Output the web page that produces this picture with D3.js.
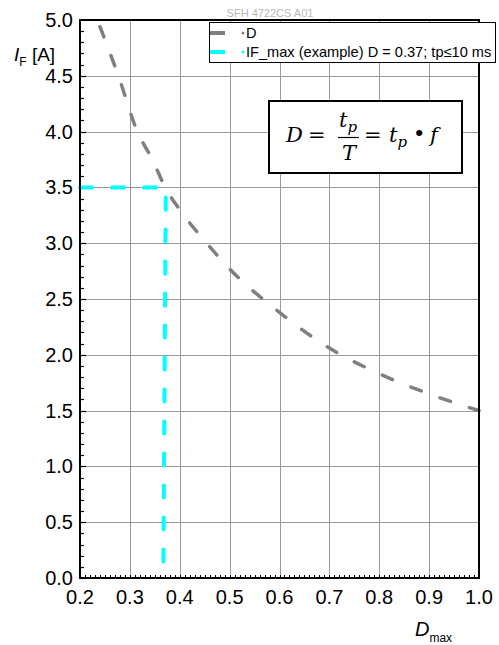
<!DOCTYPE html>
<meta charset="utf-8">
<style>
body { margin: 0; background: #fff; }
text { font-family: "Liberation Sans", Arial, sans-serif; }
.grid line { stroke: #9a9a9a; stroke-width: 1; shape-rendering: crispEdges; }
.frm { fill: none; stroke: #000; stroke-width: 1.5; shape-rendering: crispEdges; }
.mf { font-family: "DejaVu Serif", "Liberation Serif", serif; font-style: italic; font-size: 21px; }
</style>
<body>
<svg width="499" height="645"></svg>
<script src="https://cdnjs.cloudflare.com/ajax/libs/d3/7.8.5/d3.min.js"></script>
<script>

// duty cycle curve D -> IF
var dutyD  = [0.24, 0.277, 0.315, 0.345, 0.372, 0.40, 0.454, 0.50, 0.60, 0.70, 0.80, 0.90, 1.00];
var dutyIF = [4.94, 4.50,  4.00,  3.75,  3.49,  3.30, 3.00,  2.77, 2.38, 2.06, 1.83, 1.65, 1.50];

// example path
var exD  = [0.20, 0.372, 0.367];
var exIF = [3.50, 3.50,  0.00];

var xTicks = [0.2, 0.3, 0.4, 0.5, 0.6, 0.7, 0.8, 0.9, 1.0];
var yTicks = [0, 0.5, 1, 1.5, 2, 2.5, 3, 3.5, 4, 4.5, 5];
var legendLabels = ["D", "IF_max (example) D = 0.37; tp\u226410 ms"];
var legendColors = ["#808080", "#00ffff"];

var svg = d3.select("svg");
var pL = 80, pR = 479, pT = 20, pB = 578;

var x = d3.scaleLinear().domain([0.2, 1.0]).range([pL, pR]);
var y = d3.scaleLinear().domain([0, 5]).range([pB, pT]);

// title
svg.append("text")
	.attr("x", 270).attr("y", 17)
	.attr("text-anchor", "middle")
	.style("font-size", "11px")
	.style("fill", "#b8b8b8")
	.text("SFH 4722CS A01");

// grid
var grid = svg.append("g").attr("class", "grid");
grid.selectAll(".vx").data(xTicks.slice(1, -1)).enter().append("line")
	.attr("x1", function(d){ return Math.round(x(d)) + 0.5; })
	.attr("x2", function(d){ return Math.round(x(d)) + 0.5; })
	.attr("y1", pT).attr("y2", pB);
grid.selectAll(".hy").data(yTicks.slice(1, -1)).enter().append("line")
	.attr("y1", function(d){ return Math.round(y(d)) + 0.5; })
	.attr("y2", function(d){ return Math.round(y(d)) + 0.5; })
	.attr("x1", pL).attr("x2", pR);

// minor ticks
var yMinor = d3.range(0, 50).map(function(i){ return i / 10; });
svg.append("g").selectAll("line").data(yMinor).enter().append("line")
	.attr("x1", pL)
	.attr("x2", function(d){ return pL + (Math.abs(d * 2 - Math.round(d * 2)) < 1e-6 ? 6 : 4); })
	.attr("y1", function(d){ return Math.round(y(d)) + 0.5; })
	.attr("y2", function(d){ return Math.round(y(d)) + 0.5; })
	.style("stroke", "#000").style("stroke-width", 1.2);

var xMinor = d3.range(20, 101).map(function(i){ return i / 100; });
svg.append("g").selectAll("line").data(xMinor).enter().append("line")
	.attr("x1", function(d){ return Math.round(x(d)) + 0.5; })
	.attr("x2", function(d){ return Math.round(x(d)) + 0.5; })
	.attr("y1", pB)
	.attr("y2", pB - 3)
	.style("stroke", "#000").style("stroke-width", 1);

// tick labels
svg.append("g").selectAll("text").data(yTicks).enter().append("text")
	.attr("x", 73)
	.attr("y", function(d){ return y(d) + 7; })
	.attr("text-anchor", "end")
	.style("font-size", "20px")
	.text(function(d){ return d3.format(".1f")(d); });

svg.append("g").selectAll("text").data(xTicks).enter().append("text")
	.attr("x", function(d){ return x(d); })
	.attr("y", 604)
	.attr("text-anchor", "middle")
	.style("font-size", "20px")
	.text(function(d){ return d3.format(".1f")(d); });

// axis titles
var yl = svg.append("text").attr("x", 14).attr("y", 61).style("font-size", "19px");
yl.append("tspan").style("font-style", "italic").text("I");
yl.append("tspan").attr("dy", 5).style("font-size", "12px").text("F");
yl.append("tspan").attr("dy", -5).text(" [A]");

var xl = svg.append("text").attr("x", 415).attr("y", 636).style("font-size", "20px");
xl.append("tspan").style("font-style", "italic").text("D");
xl.append("tspan").attr("dy", 6).style("font-size", "12px").text("max");

// lines
var line = d3.line()
	.x(function(d){ return x(d[0]); })
	.y(function(d){ return y(d[1]); });

svg.append("path")
	.datum(d3.zip(dutyD, dutyIF))
	.attr("d", line.curve(d3.curveMonotoneX))
	.style("fill", "none")
	.style("stroke", legendColors[0])
	.style("stroke-width", 3.5)
	.style("stroke-linecap", "round")
	.style("stroke-dasharray", "11,20");

svg.append("path")
	.datum(d3.zip(exD, exIF))
	.attr("d", line.curve(d3.curveLinear))
	.style("fill", "none")
	.style("stroke", legendColors[1])
	.style("stroke-width", 4)
	.style("stroke-linecap", "round")
	.style("stroke-dasharray", "12,20");

// frame
svg.append("rect").attr("class", "frm")
	.attr("x", pL).attr("y", pT)
	.attr("width", pR - pL).attr("height", pB - pT);

// legend
var lg = svg.append("g");
lg.append("rect")
	.attr("x", 209.5).attr("y", 22.5).attr("width", 286).attr("height", 40)
	.style("fill", "#fff").style("stroke", "#000").style("stroke-width", 1);
legendLabels.forEach(function(t, i){
	var yy = 33 + i * 19;
	lg.append("line")
		.attr("x1", 210).attr("x2", 225).attr("y1", yy).attr("y2", yy)
		.style("stroke", legendColors[i]).style("stroke-width", 4);
	lg.append("circle")
		.attr("cx", 243).attr("cy", yy).attr("r", 1.5)
		.style("fill", legendColors[i]);
	lg.append("text")
		.attr("x", 246).attr("y", yy + 5)
		.style("font-size", "14.6px")
		.text(t);
});

// formula box
var fb = svg.append("g");
fb.append("rect")
	.attr("x", 269).attr("y", 101).attr("width", 193).attr("height", 72)
	.style("fill", "#fff").style("stroke", "#000").style("stroke-width", 2);

fb.append("text").attr("class", "mf").attr("x", 286).attr("y", 142).text("D");
fb.append("text").attr("class", "mf").attr("x", 308).attr("y", 142).style("font-style", "normal").text("=");
var num = fb.append("text").attr("class", "mf").attr("x", 339).attr("y", 127);
num.append("tspan").text("t");
num.append("tspan").attr("dy", 5).style("font-size", "15px").text("p");
fb.append("line").attr("x1", 338).attr("x2", 359).attr("y1", 137.5).attr("y2", 137.5)
	.style("stroke", "#000").style("stroke-width", 1.2);
fb.append("text").attr("class", "mf").attr("x", 342).attr("y", 160).text("T");
fb.append("text").attr("class", "mf").attr("x", 364).attr("y", 142).style("font-style", "normal").text("=");
var tp = fb.append("text").attr("class", "mf").attr("x", 389).attr("y", 142);
tp.append("tspan").text("t");
tp.append("tspan").attr("dy", 5).style("font-size", "15px").text("p");
fb.append("text").attr("class", "mf").attr("x", 413).attr("y", 141).style("font-style", "normal").text("\u2022");
fb.append("text").attr("class", "mf").attr("x", 430).attr("y", 142).text("f");

</script>
</body>
